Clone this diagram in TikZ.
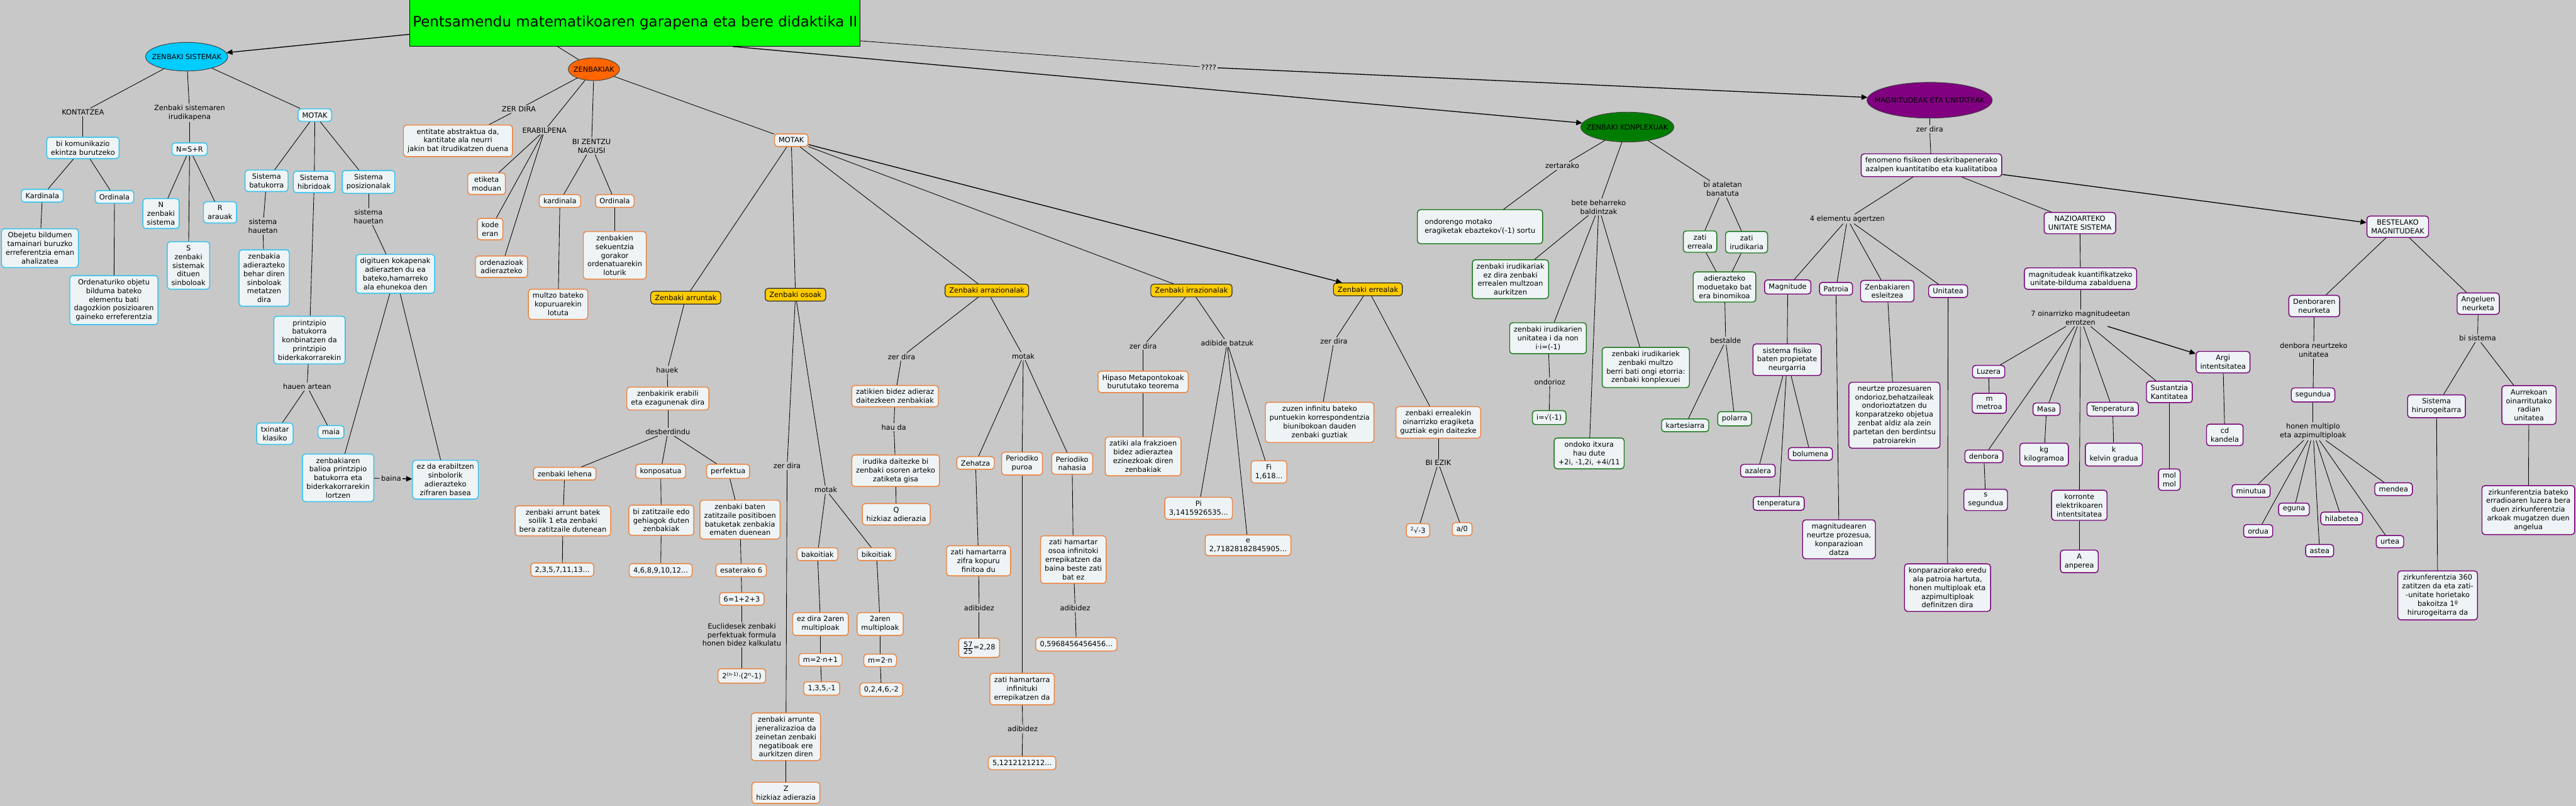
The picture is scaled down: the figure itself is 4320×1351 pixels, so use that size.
\documentclass[tikz,border=0pt]{standalone}
\usepackage{fontspec}
\setmainfont{DejaVu Sans}
\usetikzlibrary{shapes.geometric,arrows.meta}
\definecolor{bgc}{RGB}{200,200,200}
\definecolor{titlegreen}{RGB}{0,255,0}
\definecolor{zscyan}{RGB}{0,204,255}
\definecolor{zorange}{RGB}{255,102,0}
\definecolor{kgreen}{RGB}{0,125,0}
\definecolor{mpurple}{RGB}{128,0,128}
\definecolor{yellowf}{RGB}{255,204,0}
\definecolor{boxfill}{RGB}{238,244,246}
\definecolor{cyanb}{RGB}{45,195,240}
\definecolor{orangeb}{RGB}{238,130,60}
\definecolor{greenb}{RGB}{25,120,25}
\definecolor{purpleb}{RGB}{120,0,120}
\newcommand{\mapfont}{\fontsize{12}{14.6}\selectfont}
\newcommand{\titlefont}{\fontsize{24.2}{28}\selectfont}
\tikzset{
  mapbox/.style={rounded corners=5pt, fill=boxfill, line width=1.5pt, align=center, inner xsep=7pt, inner ysep=6pt, font=\mapfont},
  cybox/.style={mapbox, draw=cyanb},
  orbox/.style={mapbox, draw=orangeb},
  grbox/.style={mapbox, draw=greenb},
  pubox/.style={mapbox, draw=purpleb},
  yebox/.style={mapbox, fill=yellowf, draw=black!85, line width=1.2pt},
  lbl/.style={align=center, inner sep=2pt, font=\mapfont},
  ell/.style={ellipse, draw=black!75, line width=1pt, font=\mapfont, inner ysep=0pt},
  ln/.style={draw=black, line width=0.9pt},
  arr/.style={draw=black, line width=1.4pt, -{Triangle[length=10pt,width=9pt]}},
}
\begin{document}
\begin{tikzpicture}[x=1pt,y=-1pt]
\fill[bgc] (0,0) rectangle (4320,1351);
\useasboundingbox (0,0) rectangle (4320,1351);

% title
\node[draw=black, line width=1pt, fill=titlegreen, minimum width=755pt, minimum height=78pt, font=\titlefont, inner sep=0, anchor=north west] (title) at (687,-1) {Pentsamendu matematikoaren garapena eta bere didaktika II};

% ===== ZENBAKI SISTEMAK =====
\node[ell, fill=zscyan, minimum width=138pt, minimum height=48pt, inner xsep=-20pt] (zs) at (313,95) {ZENBAKI SISTEMAK};
\node[lbl] (kont) at (139,188) {KONTATZEA};
\node[lbl] (irud) at (318,189) {Zenbaki sistemaren\\irudikapena};
\node[cybox] (zsmotak) at (528,193) {MOTAK};
\node[cybox] (bikom) at (139,248) {bi komunikazio\\ekintza burutzeko};
\node[cybox] (nsr) at (318,250) {N=S+R};
\node[cybox] (kard1) at (71,328) {Kardinala};
\node[cybox] (ord1) at (192,330) {Ordinala};
\node[cybox] (obej) at (67,416) {Obejetu bildumen\\tamainari buruzko\\erreferentzia eman\\ahalizatea};
\node[cybox] (ordenat) at (191,503) {Ordenaturiko objetu\\bilduma bateko\\elementu bati\\dagozkion posizioaren\\gaineko erreferentzia};
\node[cybox] (nnode) at (270,358) {N\\zenbaki\\sistema};
\node[cybox] (rnode) at (369,356) {R\\arauak};
\node[cybox] (snode) at (316,445) {S\\zenbaki\\sistemak\\dituen\\sinboloak};
\node[cybox] (batuk) at (447,303) {Sistema\\batukorra};
\node[cybox] (hibr) at (527,305) {Sistema\\hibridoak};
\node[cybox] (posiz) at (618,305) {Sistema\\posizionalak};
\node[lbl] (sh1) at (441,379) {sistema\\hauetan};
\node[cybox] (zenbadier) at (443,466) {zenbakia\\adierazteko\\behar diren\\sinboloak\\metatzen\\dira};
\node[lbl] (sh2) at (618,363) {sistema\\hauetan};
\node[cybox] (digit) at (663,459) {digituen kokapenak\\adierazten du ea\\bateko,hamarreko\\ala ehunekoa den};
\node[cybox] (printz) at (519,570) {printzipio\\batukorra\\konbinatzen da\\printzipio\\biderkakorrarekin};
\node[lbl] (hauenart) at (515,648) {hauen artean};
\node[cybox] (txin) at (461,727) {txinatar\\klasiko};
\node[cybox] (maia) at (555,724) {maia};
\node[cybox] (zbal) at (567,801) {zenbakiaren\\balioa printzipio\\batukorra eta\\biderkakorrarekin\\lortzen};
\node[cybox] (ezda) at (747,804) {ez da erabiltzen\\sinbolorik\\adierazteko\\zifraren basea};
\node[lbl] (baina) at (656,802) {baina};

% ===== ZENBAKIAK =====
\node[ell, fill=zorange, minimum width=86pt, minimum height=38pt, inner xsep=-12pt] (zk) at (996,116) {ZENBAKIAK};
\node[lbl] (zerdira1) at (870,183) {ZER DIRA};
\node[orbox] (entit) at (768,236) {entitate abstraktua da,\\kantitate ala neurri\\jakin bat itrudikatzen duena};
\node[lbl] (erab) at (913,219) {ERABILPENA};
\node[orbox] (etik) at (816,308) {etiketa\\moduan};
\node[orbox] (kode) at (822,384) {kode\\eran};
\node[orbox] (ordenaz) at (841,447) {ordenazioak\\adierazteko};
\node[lbl] (bizentzu) at (992,245) {BI ZENTZU\\NAGUSI};
\node[orbox] (kard2) at (939,337) {kardinala};
\node[orbox] (ord2) at (1031,337) {Ordinala};
\node[orbox] (multzo) at (936,510) {multzo bateko\\kopuruarekin\\lotuta};
\node[orbox] (sekuen) at (1031,428) {zenbakien\\sekuentzia\\gorakor\\ordenatuarekin\\loturik};
\node[orbox] (motak2) at (1327,235) {MOTAK};

\node[yebox] (arrunt) at (1150,499) {Zenbaki arruntak};
\node[yebox] (osoak) at (1334,494) {Zenbaki osoak};
\node[yebox] (arraz) at (1655,487) {Zenbaki arrazionalak};
\node[yebox] (irraz) at (1998,487) {Zenbaki irrazionalak};
\node[yebox] (erreal) at (2294,485) {Zenbaki errealak};

% arruntak
\node[lbl] (hauek) at (1119,620) {hauek};
\node[orbox] (ezagun) at (1120,668) {zenbakirik erabili\\eta ezagunenak dira};
\node[lbl] (desb) at (1120,724) {desberdindu};
\node[orbox] (lehena) at (947,794) {zenbaki lehena};
\node[orbox] (konpos) at (1108,790) {konposatua};
\node[orbox] (perf) at (1221,790) {perfektua};
\node[orbox] (lehdef) at (944,873) {zenbaki arrunt batek\\soilik 1 eta zenbaki\\bera zatitzaile dutenean};
\node[orbox] (konpdef) at (1109,872) {bi zatitzaile edo\\gehiagok duten\\zenbakiak};
\node[orbox] (perfdef) at (1241,871) {zenbaki baten\\zatitzaile positiboen\\batuketak zenbakia\\ematen duenean};
\node[orbox] (lehex) at (943,955) {2,3,5,7,11,13...};
\node[orbox] (konpex) at (1108,956) {4,6,8,9,10,12...};
\node[orbox] (esat) at (1243,956) {esaterako 6};
\node[orbox] (seis) at (1244,1004) {6=1+2+3};
\node[lbl] (eucl) at (1244,1064) {Euclidesek zenbaki\\perfektuak formula\\honen bidez kalkulatu};
\node[orbox] (formula) at (1244,1133) {2\textsuperscript{(n-1)}·(2\textsuperscript{n}-1)};

% osoak
\node[lbl] (zerdira2) at (1320,781) {zer dira};
\node[orbox] (arrjen) at (1318,1235) {zenbaki arrunte\\jeneralizazioa da\\zeinetan zenbaki\\negatiboak ere\\aurkitzen diren};
\node[orbox] (zz) at (1318,1329) {Z\\hizkiaz adierazia};
\node[lbl] (motak3) at (1385,821) {motak};
\node[orbox] (bakoi) at (1371,929) {bakoitiak};
\node[orbox] (bikoi) at (1470,929) {bikoitiak};
\node[orbox] (ezdira2) at (1376,1046) {ez dira 2aren\\multiploak};
\node[orbox] (bimult) at (1476,1046) {2aren\\multiploak};
\node[orbox] (mbak) at (1376,1106) {m=2·n+1};
\node[orbox] (mbik) at (1476,1107) {m=2·n};
\node[orbox] (bakex) at (1378,1154) {1,3,5,-1};
\node[orbox] (bikex) at (1478,1156) {0,2,4,6,-2};

% arrazionalak
\node[lbl] (zerdira3) at (1512,598) {zer dira};
\node[orbox] (zatikien) at (1501,664) {zatikien bidez adieraz\\daitezkeen zenbakiak};
\node[lbl] (hauda) at (1499,716) {hau da};
\node[orbox] (irudika) at (1502,789) {irudika daitezke bi\\zenbaki osoren arteko\\zatiketa gisa};
\node[orbox] (qq) at (1503,862) {Q\\hizkiaz adierazia};
\node[lbl] (motak4) at (1716,597) {motak};
\node[orbox] (zehatza) at (1636,776) {Zehatza};
\node[orbox] (ppuro) at (1714,777) {Periodiko\\puroa};
\node[orbox] (pnah) at (1798,777) {Periodiko\\nahasia};
\node[orbox] (zhfin) at (1641,940) {zati hamartarra\\zifra kopuru\\finitoa du};
\node[lbl] (adib1) at (1642,1019) {adibidez};
\node[orbox] (ex57) at (1642,1086) {$\frac{\mbox{57}}{\mbox{25}}$=2,28};
\node[orbox] (zhosoa) at (1800,938) {zati hamartar\\osoa infinitoki\\errepikatzen da\\baina beste zati\\bat ez};
\node[lbl] (adib2) at (1803,1019) {adibidez};
\node[orbox] (ex059) at (1805,1080) {0,5968456456456...};
\node[orbox] (zhinf) at (1714,1155) {zati hamartarra\\infinituki\\errepikatzen da};
\node[lbl] (adib3) at (1715,1222) {adibidez};
\node[orbox] (ex512) at (1714,1279) {5,1212121212...};

% irrazionalak
\node[lbl] (zerdira4) at (1917,580) {zer dira};
\node[orbox] (hipaso) at (1917,640) {Hipaso Metapontokoak\\burututako teorema};
\node[orbox] (zatiki) at (1917,765) {zatiki ala frakzioen\\bidez adieraztea\\ezinezkoak diren\\zenbakiak};
\node[lbl] (adibat) at (2058,575) {adibide batzuk};
\node[orbox] (pi) at (2010,852) {Pi\\3,1415926535...};
\node[orbox] (fi) at (2128,791) {Fi\\1,618...};
\node[orbox] (enum) at (2093,914) {e\\2,71828182845905...};

% errealak
\node[lbl] (zerdira5) at (2237,572) {zer dira};
\node[orbox] (zuzen) at (2213,708) {zuzen infinitu bateko\\puntuekin korrespondentzia\\biunibokoan dauden\\zenbaki guztiak};
\node[orbox] (eragik) at (2412,708) {zenbaki errealekin\\oinarrizko eragiketa\\guztiak egin daitezke};
\node[lbl] (biezik) at (2412,776) {BI EZIK};
\node[orbox] (sqrt3) at (2378,889) {\textsuperscript{2}√-3};
\node[orbox] (a0) at (2452,887) {a/0};

% ===== KONPLEXUAK =====
\node[ell, fill=kgreen, minimum width=156pt, minimum height=50pt, inner xsep=-25pt] (konp) at (2729,213) {ZENBAKI KONPLEXUAK};
\node[lbl] (zertarako) at (2620,278) {zertarako};
\node[grbox, align=left, minimum width=210pt, minimum height=57pt] (ondoreng) at (2482,380) {ondorengo motako\\eragiketak ebazteko√(-1) sortu};
\node[lbl] (betebeh) at (2681,347) {bete beharreko\\baldintzak};
\node[grbox] (ezdirazb) at (2533,468) {zenbaki irudikariak\\ez dira zenbaki\\errealen multzoan\\aurkitzen};
\node[grbox] (unitI) at (2596,567) {zenbaki irudikarien\\unitatea i da non\\i·i=(-1)};
\node[lbl] (ondorioz) at (2599,640) {ondorioz};
\node[grbox] (iroot) at (2598,700) {i=√(-1)};
\node[grbox] (itxura) at (2665,760) {ondoko itxura\\hau dute\\+2i, -1,2i, +4i/11};
\node[grbox] (ongi) at (2760,616) {zenbaki irudikariek\\zenbaki multzo\\berri bati ongi etorria:\\zenbaki konplexuei};
\node[lbl] (biatal) at (2889,317) {bi ataletan\\banatuta};
\node[grbox] (zerreala) at (2851,405) {zati\\erreala};
\node[grbox] (zirud) at (2929,406) {zati\\irudikaria};
\node[grbox] (binom) at (2892,481) {adierazteko\\moduetako bat\\era binomikoa};
\node[lbl] (bestalde) at (2894,571) {bestalde};
\node[grbox] (kartes) at (2826,713) {kartesiarra};
\node[grbox] (polar) at (2909,702) {polarra};

% ===== MAGNITUDEAK =====
\node[lbl] (qmark) at (2027,113) {????};
\node[ell, fill=mpurple, minimum width=210pt, minimum height=60pt, inner xsep=-40pt] (mag) at (3236,168) {MAGNITUDEAK ETA UNITATEAK};
\node[lbl] (zerdira6) at (3236,217) {zer dira};
\node[pubox] (fenom) at (3239,277) {fenomeno fisikoen deskribapenerako\\azalpen kuantitatibo eta kualitatiboa};
\node[lbl] (lauelem) at (3098,367) {4 elementu agertzen};
\node[pubox] (magn) at (2998,481) {Magnitude};
\node[pubox] (patro) at (3079,484) {Patroia};
\node[pubox] (eslei) at (3165,488) {Zenbakiaren\\esleitzea};
\node[pubox] (unit) at (3267,488) {Unitatea};
\node[pubox] (sisfis) at (2997,603) {sistema fisiko\\baten propietate\\neurgarria};
\node[pubox] (azal) at (2948,789) {azalera};
\node[pubox] (bolum) at (3036,761) {bolumena};
\node[pubox] (tenp1) at (2983,844) {tenperatura};
\node[pubox] (neurtze) at (3084,904) {magnitudearen\\neurtze prozesua,\\konparazioan\\datza};
\node[pubox] (neurtzep) at (3177,696) {neurtze prozesuaren\\ondorioz,behatzaileak\\ondorioztatzen du\\konparatzeko objetua\\zenbat aldiz ala zein\\partetan den berdintsu\\patroiarekin};
\node[pubox] (konpar) at (3266,985) {konparaziorako eredu\\ala patroia hartuta,\\honen multiploak eta\\azpimultiploak\\definitzen dira};
\node[pubox] (nazio) at (3488,374) {NAZIOARTEKO\\UNITATE SISTEMA};
\node[pubox] (kuant) at (3489,467) {magnitudeak kuantifikatzeko\\unitate-bilduma zabalduena};
\node[lbl] (zazpi) at (3489,533) {7 oinarrizko magnitudeetan\\errotzen};
\node[pubox] (luzera) at (3335,623) {Luzera};
\node[pubox] (metro) at (3336,676) {m\\metroa};
\node[pubox] (masa) at (3432,686) {Masa};
\node[pubox] (kg) at (3428,762) {kg\\kilogramoa};
\node[pubox] (tenp2) at (3543,686) {Tenperatura};
\node[pubox] (kelv) at (3545,762) {k\\kelvin gradua};
\node[pubox] (sust) at (3638,657) {Sustantzia\\Kantitatea};
\node[pubox] (mol) at (3638,804) {mol\\mol};
\node[pubox] (argi) at (3728,607) {Argi\\intentsitatea};
\node[pubox] (cd) at (3731,729) {cd\\kandela};
\node[pubox] (denb) at (3327,765) {denbora};
\node[pubox] (seg1) at (3330,838) {s\\segundua};
\node[pubox] (korr) at (3487,847) {korronte\\elektrikoaren\\intentsitatea};
\node[pubox] (amp) at (3487,941) {A\\anperea};
\node[pubox] (beste) at (4021,380) {BESTELAKO\\MAGNITUDEAK};
\node[pubox] (denbn) at (3881,513) {Denboraren\\neurketa};
\node[lbl] (denbu) at (3880,587) {denbora neurtzeko\\unitatea};
\node[pubox] (seg2) at (3879,662) {segundua};
\node[lbl] (honen) at (3879,723) {honen multiplo\\eta azpimultiploak};
\node[pubox] (minut) at (3775,823) {minutua};
\node[pubox] (eguna) at (3847,854) {eguna};
\node[pubox] (ordua) at (3787,890) {ordua};
\node[pubox] (hilab) at (3927,869) {hilabetea};
\node[pubox] (mendea) at (4014,820) {mendea};
\node[pubox] (urtea) at (4008,908) {urtea};
\node[pubox] (astea) at (3890,923) {astea};
\node[pubox] (angel) at (4156,509) {Angeluen\\neurketa};
\node[lbl] (bisist) at (4155,567) {bi sistema};
\node[pubox] (hirur) at (4086,681) {Sistema\\hirurogeitarra};
\node[pubox] (radian) at (4241,679) {Aurrekoan\\oinarritutako\\radian\\unitatea};
\node[pubox] (zirk1) at (4240,855) {zirkunferentzia bateko\\erradioaren luzera bera\\duen zirkunferentzia\\arkoak mugatzen duen\\angelua};
\node[pubox] (zirk360) at (4088,998) {zirkunferentzia 360\\zatitzen da eta zati-\\-unitate horietako\\bakoitza 1º\\hirurogeitarra da};

% ===== connectors =====
\draw[arr] ([yshift=-19pt]title.west) -- (zs);
\draw[ln] ([xshift=-130pt]title.south) -- (zk);
\draw[arr] ([xshift=164pt]title.south) -- (konp);
\draw[ln] ([yshift=-30pt]title.east) -- (qmark);
\draw[arr] (qmark) -- (mag);

\foreach \a/\b in {zs/kont, kont/bikom, zs/irud, irud/nsr, zs/zsmotak, bikom/kard1, bikom/ord1, kard1/obej, ord1/ordenat,
  nsr/nnode, nsr/snode, nsr/rnode, zsmotak/batuk, zsmotak/hibr, zsmotak/posiz, batuk/sh1, sh1/zenbadier, posiz/sh2, sh2/digit,
  hibr/printz, printz/hauenart, hauenart/txin, hauenart/maia, digit/zbal, digit/ezda, zbal/baina,
  zk/zerdira1, zerdira1/entit, zk/erab, erab/etik, erab/kode, erab/ordenaz, zk/bizentzu, bizentzu/kard2, bizentzu/ord2,
  kard2/multzo, ord2/sekuen, zk/motak2,
  motak2/arrunt, motak2/osoak, motak2/arraz, motak2/irraz,
  arrunt/hauek, hauek/ezagun, ezagun/desb, desb/lehena, desb/konpos, desb/perf, lehena/lehdef, lehdef/lehex,
  konpos/konpdef, konpdef/konpex, perf/perfdef, perfdef/esat, esat/seis, seis/eucl, eucl/formula,
  osoak/zerdira2, zerdira2/arrjen, arrjen/zz, osoak/motak3, motak3/bakoi, motak3/bikoi, bakoi/ezdira2, ezdira2/mbak, mbak/bakex,
  bikoi/bimult, bimult/mbik, mbik/bikex,
  arraz/zerdira3, zerdira3/zatikien, zatikien/hauda, hauda/irudika, irudika/qq, arraz/motak4, motak4/zehatza, motak4/ppuro, motak4/pnah,
  zehatza/zhfin, zhfin/adib1, adib1/ex57, ppuro/zhinf, zhinf/adib3, adib3/ex512, pnah/zhosoa, zhosoa/adib2, adib2/ex059,
  irraz/zerdira4, zerdira4/hipaso, hipaso/zatiki, irraz/adibat, adibat/pi, adibat/fi, adibat/enum,
  erreal/zerdira5, zerdira5/zuzen, erreal/eragik, eragik/biezik, biezik/sqrt3, biezik/a0,
  konp/zertarako, zertarako/ondoreng, konp/betebeh, betebeh/ezdirazb, betebeh/unitI, betebeh/itxura, betebeh/ongi,
  unitI/ondorioz, ondorioz/iroot, konp/biatal, biatal/zerreala, biatal/zirud, zerreala/binom, zirud/binom, binom/bestalde,
  bestalde/kartes, bestalde/polar,
  mag/zerdira6, zerdira6/fenom, fenom/lauelem, lauelem/magn, lauelem/patro, lauelem/eslei, lauelem/unit, fenom/nazio,
  magn/sisfis, sisfis/azal, sisfis/tenp1, sisfis/bolum, patro/neurtze, eslei/neurtzep, unit/konpar,
  nazio/kuant, kuant/zazpi, zazpi/luzera, zazpi/denb, zazpi/masa, zazpi/korr, zazpi/tenp2, zazpi/sust,
  luzera/metro, masa/kg, tenp2/kelv, sust/mol, argi/cd, denb/seg1, korr/amp,
  beste/denbn, beste/angel, denbn/denbu, denbu/seg2, seg2/honen, honen/minut, honen/ordua, honen/eguna, honen/astea,
  honen/hilab, honen/urtea, honen/mendea, angel/bisist, bisist/hirur, bisist/radian, hirur/zirk360, radian/zirk1}
  \draw[ln] (\a) -- (\b);

\draw[arr] (baina) -- (ezda);
\draw[arr] (motak2) -- (erreal);
\draw[arr] (fenom) -- (beste);
\draw[arr] (zazpi) -- (argi);
\end{tikzpicture}
\end{document}
